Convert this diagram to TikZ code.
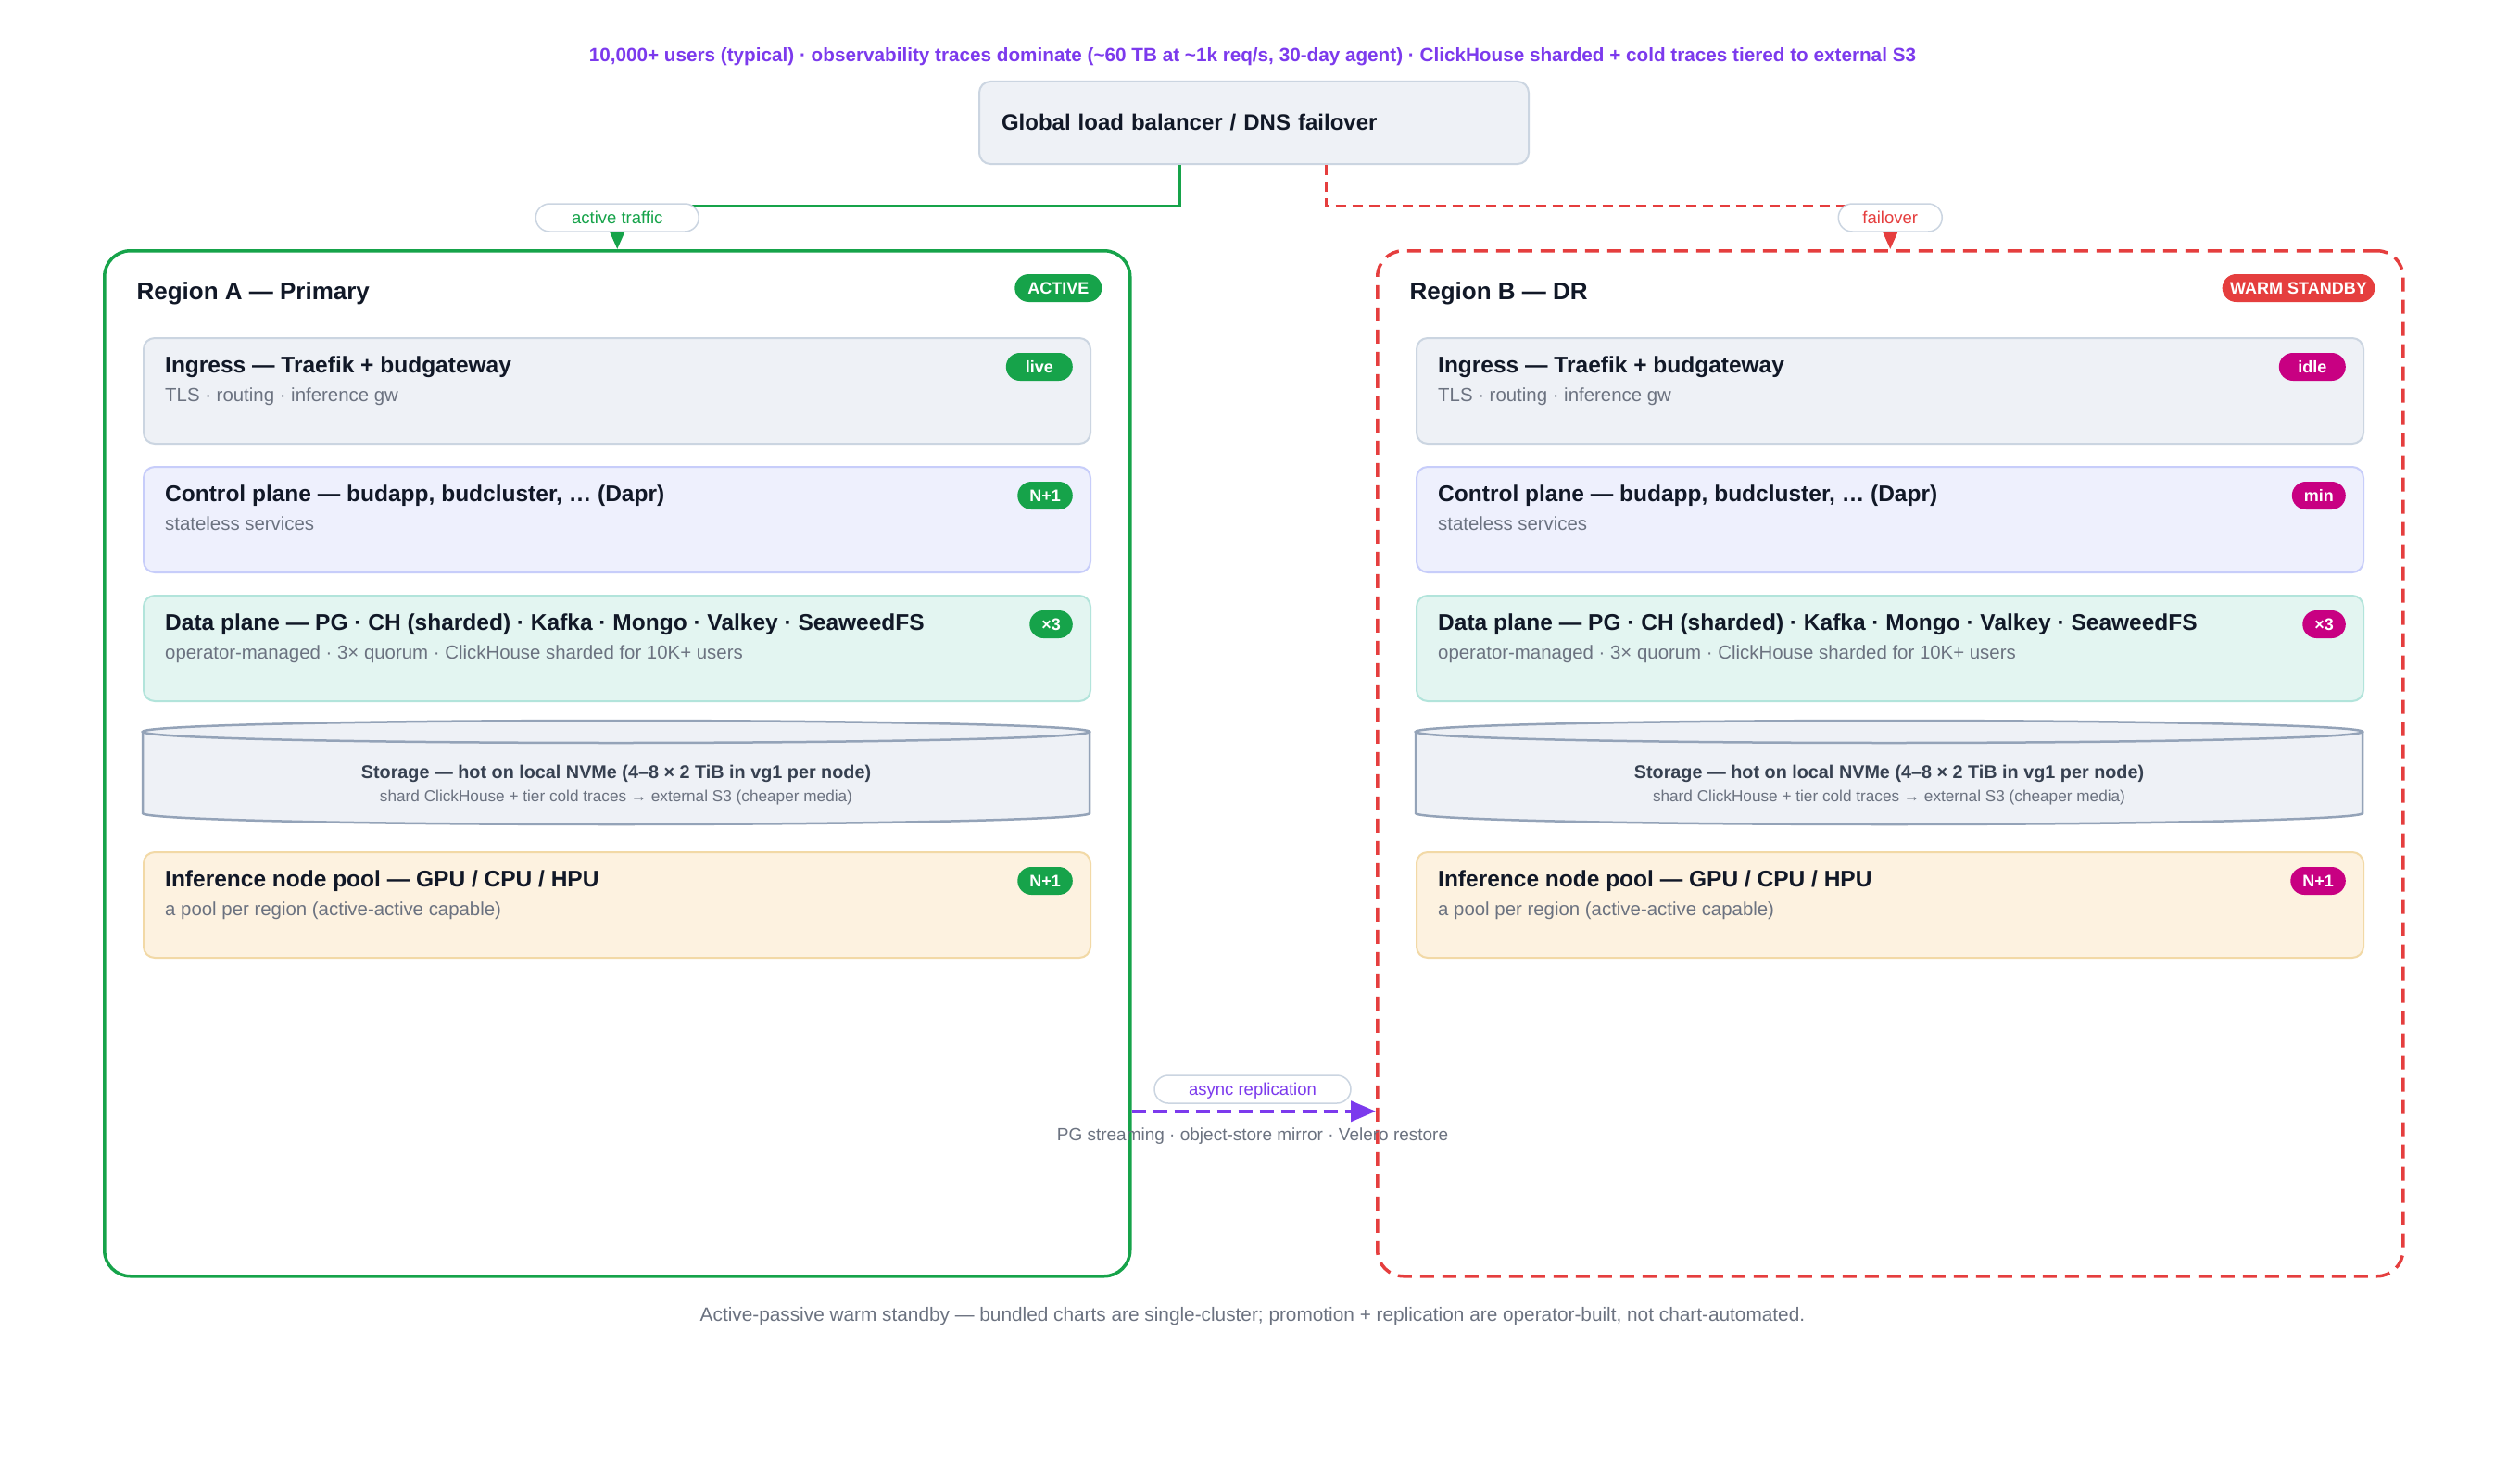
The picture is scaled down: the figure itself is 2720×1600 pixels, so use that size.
\documentclass[tikz,border=0pt]{standalone}
\usepackage{fontspec}
\setmainfont{Liberation Sans}
\usepackage{xcolor}
\usetikzlibrary{arrows.meta}
\definecolor{okgreen}{RGB}{22,163,74}
\definecolor{alertred}{RGB}{229,62,62}
\definecolor{accentpurple}{RGB}{124,58,237}
\definecolor{hotpink}{RGB}{200,0,130}
\definecolor{inkdark}{RGB}{17,24,39}
\definecolor{inkgray}{RGB}{107,114,128}
\definecolor{inkslate}{RGB}{55,65,81}
\definecolor{panelfill}{RGB}{238,241,246}
\definecolor{panelline}{RGB}{203,213,225}
\definecolor{ctlfill}{RGB}{238,240,253}
\definecolor{ctlline}{RGB}{199,205,250}
\definecolor{datfill}{RGB}{227,245,241}
\definecolor{datline}{RGB}{178,228,219}
\definecolor{storline}{RGB}{148,163,184}
\definecolor{inffill}{RGB}{253,242,224}
\definecolor{infline}{RGB}{242,217,166}
\newcommand{\fsz}[1]{\fontsize{#1pt}{#1pt}\selectfont}

\tikzset{
  region/.style={draw=#1, line width=3.5pt, rounded corners=28pt, minimum width=1107pt, minimum height=1107pt, anchor=north west},
  card/.style={line width=2pt, rounded corners=12pt, minimum width=1022pt, minimum height=114pt, anchor=north west, inner sep=0pt},
  badge/.style={fill=#1, text=white, font=\fsz{18}\bfseries, rounded corners=15pt, minimum height=30pt, text height=13pt, text depth=0pt, inner xsep=13pt, inner ysep=0pt, anchor=east},
  cardtitle/.style={anchor=base west, font=\fsz{24.5}\bfseries, text=inkdark, inner sep=0pt},
  cardnote/.style={anchor=base west, font=\fsz{20.4}, text=inkgray, inner sep=0pt},
  pill/.style={fill=white, draw=panelline, line width=1.5pt, rounded corners=15pt, minimum height=30pt, text height=13pt, text depth=0pt, inner ysep=0pt, font=\fsz{18.5}},
}

\begin{document}
\begin{tikzpicture}[x=1pt, y=-1pt]
    \fill[white] (0,0) rectangle (2720,1600);
    \useasboundingbox (0,0) rectangle (2720,1600);

    % Headline
    \node[font=\fsz{20.7}\bfseries, text=accentpurple] (head) at (1352,61) {10,000+ users (typical) · observability traces dominate (\textasciitilde 60 TB at \textasciitilde 1k req/s, 30-day agent) · ClickHouse sharded + cold traces tiered to external S3};

    % Global entry point
    \node[fill=panelfill, draw=panelline, line width=2pt, rounded corners=12pt, minimum width=593pt, minimum height=89pt, text width=545pt, inner xsep=24pt, align=left, font=\fsz{24}\bfseries, text=inkdark] (lb) at (1353.5,132.5) {Global load balancer / DNS failover};

    % Regions
    \node[region=okgreen] (regA) at (111,269) {};
    \node[region=alertred, dash pattern=on 15pt off 9pt] (regB) at (1485,269) {};
    \node[anchor=base west, font=\fsz{26}\bfseries, text=inkdark] (regAt) at ([xshift=33pt,yshift=-54pt]regA.north west) {Region A — Primary};
    \node[anchor=base west, font=\fsz{26}\bfseries, text=inkdark] (regBt) at ([xshift=33pt,yshift=-54pt]regB.north west) {Region B — DR};
    \node[badge=okgreen, minimum width=94pt] (regAb) at ([xshift=-32pt,yshift=-42pt]regA.north east) {ACTIVE};
    \node[badge=alertred, inner xsep=8.5pt] (regBb) at ([xshift=-32pt,yshift=-42pt]regB.north east) {WARM STANDBY};

    % Layer stack, same in both regions
    \foreach \r/\x/\c/\bi/\bn in {A/154/okgreen/live/N+1, B/1528/hotpink/idle/min} {
        \node[card, fill=panelfill, draw=panelline] (\r-ing) at (\x,364) {};
        \node[cardtitle] (\r-ingt) at ([xshift=24pt,yshift=-38pt]\r-ing.north west) {Ingress — Traefik + budgateway};
        \node[cardnote] (\r-ingn) at ([xshift=24pt,yshift=-69pt]\r-ing.north west) {TLS · routing · inference gw};
        \node[badge=\c, minimum width=72pt] (\r-ingb) at ([xshift=-20pt,yshift=-32pt]\r-ing.north east) {\bi};

        \node[card, fill=ctlfill, draw=ctlline] (\r-ctl) at (\x,503) {};
        \node[cardtitle] (\r-ctlt) at ([xshift=24pt,yshift=-38pt]\r-ctl.north west) {Control plane — budapp, budcluster, … (Dapr)};
        \node[cardnote] (\r-ctln) at ([xshift=24pt,yshift=-69pt]\r-ctl.north west) {stateless services};
        \node[badge=\c] (\r-ctlb) at ([xshift=-20pt,yshift=-32pt]\r-ctl.north east) {\bn};

        \node[card, fill=datfill, draw=datline] (\r-dat) at (\x,642) {};
        \node[cardtitle] (\r-datt) at ([xshift=24pt,yshift=-38pt]\r-dat.north west) {Data plane — PG · CH (sharded) · Kafka · Mongo · Valkey · SeaweedFS};
        \node[cardnote] (\r-datn) at ([xshift=24pt,yshift=-69pt]\r-dat.north west) {operator-managed · 3× quorum · ClickHouse sharded for 10K+ users};
        \node[badge=\c] (\r-datb) at ([xshift=-20pt,yshift=-32pt]\r-dat.north east) {×3};

        % storage drum
        \filldraw[fill=panelfill, draw=storline, line width=2.5pt] (\x,790) -- (\x,878) arc[start angle=180, end angle=360, x radius=511pt, y radius=12pt] -- (\x+1022,790);
        \filldraw[fill=panelfill, draw=storline, line width=2.5pt] (\x+511,790) ellipse [x radius=511pt, y radius=12pt];
        \node[anchor=base, font=\fsz{19.8}\bfseries, text=inkslate, inner sep=0pt] (\r-stot) at (\x+511,840) {Storage — hot on local NVMe (4–8 × 2 TiB in vg1 per node)};
        \node[anchor=base, font=\fsz{17.2}, text=inkgray, inner sep=0pt] (\r-ston) at (\x+511,865) {shard ClickHouse + tier cold traces → external S3 (cheaper media)};

        \node[card, fill=inffill, draw=infline] (\r-inf) at (\x,919) {};
        \node[cardtitle] (\r-inft) at ([xshift=24pt,yshift=-38pt]\r-inf.north west) {Inference node pool — GPU / CPU / HPU};
        \node[cardnote] (\r-infn) at ([xshift=24pt,yshift=-69pt]\r-inf.north west) {a pool per region (active-active capable)};
        \node[badge=\c] (\r-infb) at ([xshift=-20pt,yshift=-32pt]\r-inf.north east) {N+1};
    }

    % Traffic from the global balancer
    \draw[okgreen, line width=3pt, -{Triangle[length=18pt,width=15pt]}] ([xshift=-80pt]lb.south) |- ([yshift=47pt]regA.north) -- (regA.north);
    \draw[alertred, line width=3pt, dash pattern=on 11pt off 7pt, -{Triangle[length=18pt,width=15pt]}] ([xshift=78pt]lb.south) |- ([yshift=47pt]regB.north) -- (regB.north);
    \node[pill, text=okgreen, minimum width=176pt] (actl) at ([yshift=34pt]regA.north) {active traffic};
    \node[pill, text=alertred, minimum width=112pt] (fail) at ([yshift=34pt]regB.north) {failover};

    % Replication between regions
    \draw[accentpurple, line width=4pt, dash pattern=on 15pt off 8pt, -{Triangle[length=27pt,width=22pt]}] ([yshift=-375.5pt]regA.east) -- ([yshift=-375.5pt]regB.west);
    \node[pill, text=accentpurple, minimum width=212pt] (repl) at (1352,1176) {async replication};
    \node[font=\fsz{19}, text=inkgray] (repn) at (1352,1227) {PG streaming · object-store mirror · Velero restore};

    % Footer
    \node[font=\fsz{20.8}, text=inkgray] (foot) at (1352,1421) {Active-passive warm standby — bundled charts are single-cluster; promotion + replication are operator-built, not chart-automated.};
\end{tikzpicture}
\end{document}
